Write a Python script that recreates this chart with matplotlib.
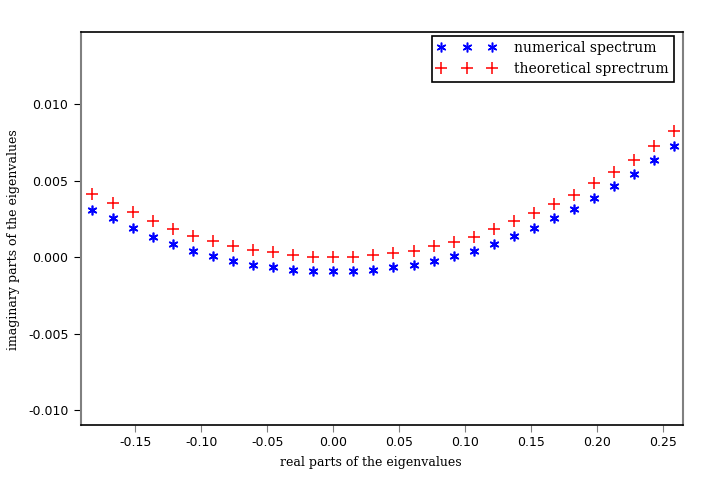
import matplotlib.pyplot as plt
from matplotlib.lines import Line2D

# real parts of the eigenvalues (same for both spectra)
re_parts = [-0.1824, -0.1672, -0.1520, -0.1368, -0.1216, -0.1064, -0.0912,
            -0.0760, -0.0608, -0.0456, -0.0304, -0.0152, 0.0000, 0.0152,
            0.0304, 0.0456, 0.0608, 0.0760, 0.0912, 0.1064, 0.1216, 0.1368,
            0.1520, 0.1672, 0.1824, 0.1976, 0.2128, 0.2280, 0.2432, 0.2584]

# imaginary parts, numerical
im_num = [0.00310, 0.00254, 0.00188, 0.00134, 0.00086, 0.00042, 0.00008,
          -0.00023, -0.00051, -0.00067, -0.00084, -0.00093, -0.00093, -0.00093,
          -0.00084, -0.00067, -0.00049, -0.00028, 0.00005, 0.00042, 0.00086,
          0.00136, 0.00188, 0.00254, 0.00315, 0.00387, 0.00463, 0.00544,
          0.00635, 0.00724]

# imaginary parts, theoretical
im_theo = [0.00412, 0.00351, 0.00292, 0.00235, 0.00180, 0.00137, 0.00105,
           0.00072, 0.00046, 0.00030, 0.00013, 0.00002, 0.00000, 0.00000,
           0.00013, 0.00025, 0.00042, 0.00069, 0.00101, 0.00134, 0.00182,
           0.00234, 0.00289, 0.00348, 0.00407, 0.00482, 0.00559, 0.00635,
           0.00729, 0.00822]

xticks = [-0.15, -0.10, -0.05, 0.00, 0.05, 0.10, 0.15, 0.20, 0.25]
yticks = [-0.010, -0.005, 0.000, 0.005, 0.010]

asterisk = (6, 2, 0)

fig = plt.figure(figsize=(7.08, 4.78), dpi=100)
ax = fig.add_axes([0.1144, 0.1109, 0.8499, 0.8215])

ax.plot(re_parts, im_num, linestyle='none', marker=asterisk, ms=7, mew=1.2,
        color='#0000ff')
ax.plot(re_parts, im_theo, linestyle='none', marker='+', ms=8, mew=1.1,
        color='#ff0000')

ax.set_xlim(-0.1911, 0.2647)
ax.set_ylim(-0.01098, 0.01469)
ax.set_xticks(xticks)
ax.set_xticklabels(['%.2f' % t for t in xticks])
ax.set_yticks(yticks)
ax.set_yticklabels(['%.3f' % t for t in yticks])

for s in ['left', 'right']:
    ax.spines[s].set_color('#808080')
    ax.spines[s].set_linewidth(1.5)
for s in ['top', 'bottom']:
    ax.spines[s].set_color('black')
    ax.spines[s].set_linewidth(1.2)

ax.tick_params(axis='both', direction='out', length=5, labelsize=9,
               top=False, right=False)
ax.tick_params(axis='x', color='#808080', pad=3)
ax.tick_params(axis='y', color='black', pad=4)

serif = ['DejaVu Serif']
ax.set_xlabel('real parts of the eigenvalues', family=serif, fontsize=9)
ax.set_ylabel('imaginary parts of the eigenvalues', family=serif, fontsize=9)
ax.xaxis.set_label_coords(0.482, -0.079)
ax.yaxis.set_label_coords(-0.102, 0.471)

handles = [Line2D([], [], linestyle='none', marker=asterisk, ms=7, mew=1.1,
                  color='#0000ff'),
           Line2D([], [], linestyle='none', marker='+', ms=8, mew=1.1,
                  color='#ff0000')]
leg = ax.legend(handles, ['numerical spectrum', 'theoretical sprectrum'],
                loc='upper right', bbox_to_anchor=(674.3 / 708, 1 - 36 / 478),
                bbox_transform=fig.transFigure, borderaxespad=0,
                numpoints=3, fancybox=False, framealpha=1, edgecolor='black',
                prop={'family': serif, 'size': 10},
                handlelength=4.25, handletextpad=1.3, labelspacing=0.5,
                borderpad=0.38)
leg.get_frame().set_linewidth(1.2)

fig.savefig('out.png', dpi=100)
